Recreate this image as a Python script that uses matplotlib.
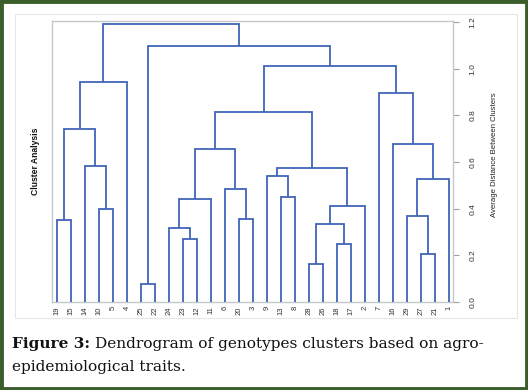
import matplotlib
matplotlib.use('Agg')
import matplotlib.pyplot as plt
from matplotlib.patches import Rectangle

# ---------------- data ----------------
leaf_labels = ['19', '15', '14', '10', '5', '4', '25', '22', '24', '23', '12', '11',
               '6', '20', '3', '9', '13', '8', '28', '26', '18', '17', '2', '7',
               '16', '29', '27', '21', '1']

merge_name = ['C1', 'C2', 'C3', 'C4', 'C5', 'C6', 'C7', 'C8', 'C9', 'C10',
              'C11', 'C12', 'C13', 'C14', 'C15', 'C16', 'C17', 'C18', 'C19', 'C20',
              'C21', 'C22', 'C23', 'C24', 'C25', 'C26', 'C27', 'C28']
merge_left = ['25', '28', '27', '18', '23', '24', 'C2', '19', '20', '29',
              '10', 'C7', 'C6', '13', '6', 'C10', '9', 'C17', '14', 'C13',
              '16', 'C8', 'C20', '7', 'C22', 'C23', 'C1', 'C25']
merge_right = ['22', '26', '21', '17', '12', 'C5', 'C4', '15', '3', 'C3',
               '5', '2', '11', '8', 'C9', '1', 'C14', 'C12', 'C11', 'C15',
               'C16', 'C19', 'C18', 'C21', '4', 'C24', 'C26', 'C27']
merge_height = [0.077, 0.164, 0.207, 0.249, 0.269, 0.319, 0.333, 0.352, 0.356, 0.368,
                0.400, 0.412, 0.441, 0.449, 0.484, 0.527, 0.542, 0.574, 0.584, 0.655,
                0.677, 0.741, 0.814, 0.896, 0.943, 1.014, 1.097, 1.190]

y_ticks = [0.0, 0.2, 0.4, 0.6, 0.8, 1.0, 1.2]
y_ticklabels = ['0.0', '0.2', '0.4', '0.6', '0.8', '1.0', '1.2']
y_label = 'Average Distance Between Clusters'
side_title = 'Cluster Analysis'
caption_bold = 'Figure 3:'
caption_line1 = 'Dendrogram of genotypes clusters based on agro-'
caption_line2 = 'epidemiological traits.'

# ---------------- style ----------------
W, H = 528, 390
LINE = '#4164b8'
FRAME = '#c4c8cc'
narrow = ['Liberation Sans', 'DejaVu Sans']
serif = ['DejaVu Serif']

fig = plt.figure(figsize=(W / 100, H / 100), dpi=100)
fig.patch.set_facecolor('white')

ax = fig.add_axes([52 / W, 1 - 302 / H, (453 - 52) / W, (302 - 21) / H])
ax.set_facecolor('white')

# node positions
pos = {lab: (float(i), 0.0) for i, lab in enumerate(leaf_labels)}
for name, l, r, h in zip(merge_name, merge_left, merge_right, merge_height):
    xl, hl = pos[l]
    xr, hr = pos[r]
    ax.plot([xl, xl, xr, xr], [hl, h, h, hr], color=LINE, lw=1.3,
            solid_capstyle='butt', solid_joinstyle='miter', zorder=3)
    pos[name] = ((xl + xr) / 2, h)

ax.set_xlim(-0.357, 28.29)
ax.set_ylim(0.0, 1.205)

for s in ax.spines.values():
    s.set_color(FRAME)
    s.set_linewidth(1.0)

ax.set_xticks(range(len(leaf_labels)))
ax.set_xticklabels(leaf_labels, rotation=90, fontsize=5.5, family=narrow,
                   color='#333333')
ax.tick_params(axis='x', length=0, pad=3)

ax.yaxis.tick_right()
ax.set_yticks(y_ticks)
ax.set_yticklabels(y_ticklabels, rotation=90, fontsize=6, family=narrow,
                   color='#333333', va='center')
ax.tick_params(axis='y', length=4, width=0.8, color='#a0a0a0', pad=8)

fig.text(494 / W, 1 - 155 / H, y_label, rotation=90, ha='center', va='center',
         fontsize=5.6, family=narrow, color='#222222')
fig.text(35 / W, 1 - 161 / H, side_title, rotation=90, ha='center', va='center',
         fontsize=6.2, fontweight='bold', family=narrow, color='#111111')

# inset frame of the chart image
fig.add_artist(Rectangle((15 / W, 1 - 318 / H), (517 - 15) / W, (318 - 14) / H,
                         transform=fig.transFigure, fill=False,
                         edgecolor='#e6e6e6', lw=0.8))

# green outer border
fig.add_artist(Rectangle((0.002, 0.003), 0.996, 0.994, transform=fig.transFigure,
                         fill=False, edgecolor='#3b5e2c', lw=3.5))

# caption
FS = 11.1
t1 = fig.text(12 / W, 1 - 348 / H, caption_bold, fontsize=FS, fontweight='bold',
              family=serif, color='#111111', va='baseline')
fig.canvas.draw()
bb = t1.get_window_extent()
fig.text(bb.x1 / W + 5 / W, 1 - 348 / H, caption_line1, fontsize=FS,
         family=serif, color='#111111', va='baseline')
fig.text(12 / W, 1 - 371 / H, caption_line2, fontsize=FS,
         family=serif, color='#111111', va='baseline')

fig.savefig('out.png', dpi=100, facecolor='white')
